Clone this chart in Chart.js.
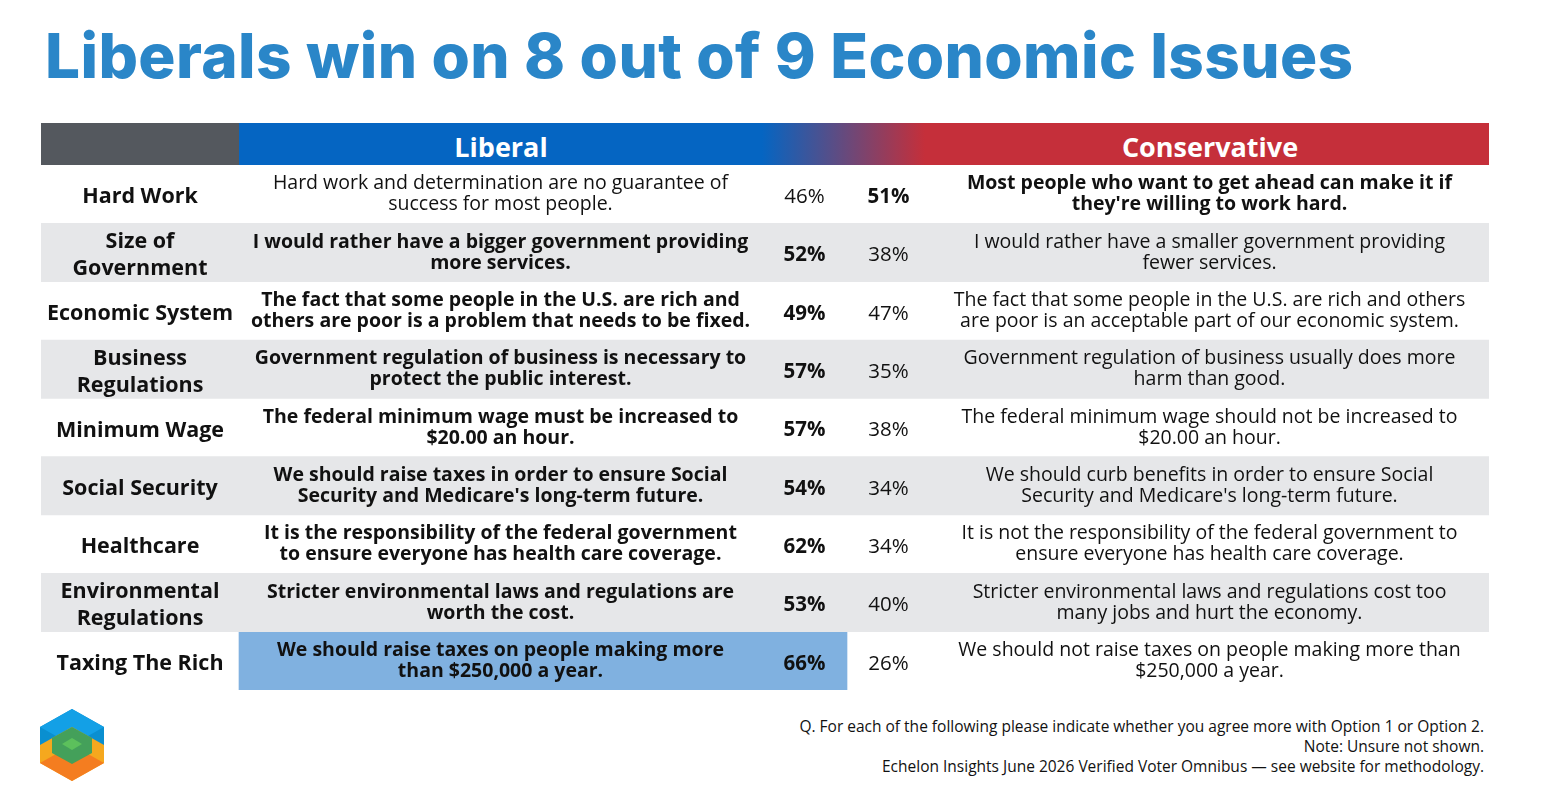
<!DOCTYPE html>
<html>
<head>
<meta charset="utf-8">
<script src="https://cdn.jsdelivr.net/npm/chart.js@4"></script>
<style>
body { margin: 0; background: #fff; font-family: "Open Sans", sans-serif; width: 1544px; height: 789px; position: relative; overflow: hidden; }
#title { position: absolute; left: 45px; top: 18px; font: 800 62px "Inter", sans-serif; color: #2a86c8; letter-spacing: 0.4px; white-space: nowrap; }
#head { position: absolute; left: 41px; top: 123px; width: 1448px; height: 42px;
  background: linear-gradient(90deg, #54585e 0, #54585e 198px, #0565c2 198px, #0565c2 721px, #c52f3a 884px, #c52f3a 100%); }
.h { position: absolute; top: 5px; color: #fff; font: 700 27px "Open Sans", sans-serif; transform: translateX(-50%); }
#wrap { position: absolute; left: 41px; top: 165px; width: 1448px; height: 525px; }
#notes { position: absolute; right: 60px; top: 716px; text-align: right; font: 15.5px "Open Sans", sans-serif; color: #111; line-height: 20px; }
#logo { position: absolute; left: 38px; top: 707px; }
</style>
</head>
<body>
<div id="title">Liberals win on 8 out of 9 Economic Issues</div>
<div id="head"><span class="h" style="left:460px">Liberal</span><span class="h" style="left:1169px">Conservative</span></div>
<div id="wrap"><canvas id="tabela" width="1448" height="525"></canvas></div>
<div id="notes">Q. For each of the following please indicate whether you agree more with Option 1 or Option 2.<br>Note: Unsure not shown.<br>Echelon Insights June 2026 Verified Voter Omnibus — see website for methodology.</div>
<svg id="logo" width="68" height="76" viewBox="0 0 68 76">
  <polygon points="34,2 66,20 66,38 34,56 2,38 2,20" fill="#0a8fd0"/>
  <polygon points="34,2 66,20 34,38 2,20" fill="#13a0e6"/>
  <polygon points="2,38 34,20 66,38 66,56 34,74 2,56" fill="#f5a81e"/>
  <polygon points="34,38 66,56 34,74 2,56" fill="#f47d20"/>
  <polygon points="34,20 54,31 54,46 34,57 14,46 14,31" fill="#44a05a"/>
  <polygon points="34,31 44,37 34,43 24,37" fill="#5cc05c"/>
</svg>
<script>
// Dados da tabela
var temas = ["Hard Work", "Size of\nGovernment", "Economic System", "Business\nRegulations", "Minimum Wage", "Social Security", "Healthcare", "Environmental\nRegulations", "Taxing The Rich"];
var textoLiberal = [
    "Hard work and determination are no guarantee of\nsuccess for most people.",
    "I would rather have a bigger government providing\nmore services.",
    "The fact that some people in the U.S. are rich and\nothers are poor is a problem that needs to be fixed.",
    "Government regulation of business is necessary to\nprotect the public interest.",
    "The federal minimum wage must be increased to\n$20.00 an hour.",
    "We should raise taxes in order to ensure Social\nSecurity and Medicare's long-term future.",
    "It is the responsibility of the federal government\nto ensure everyone has health care coverage.",
    "Stricter environmental laws and regulations are\nworth the cost.",
    "We should raise taxes on people making more\nthan $250,000 a year."
];
var textoConservador = [
    "Most people who want to get ahead can make it if\nthey're willing to work hard.",
    "I would rather have a smaller government providing\nfewer services.",
    "The fact that some people in the U.S. are rich and others\nare poor is an acceptable part of our economic system.",
    "Government regulation of business usually does more\nharm than good.",
    "The federal minimum wage should not be increased to\n$20.00 an hour.",
    "We should curb benefits in order to ensure Social\nSecurity and Medicare's long-term future.",
    "It is not the responsibility of the federal government to\nensure everyone has health care coverage.",
    "Stricter environmental laws and regulations cost too\nmany jobs and hurt the economy.",
    "We should not raise taxes on people making more than\n$250,000 a year."
];
var pctLiberal = [46, 52, 49, 57, 57, 54, 62, 53, 66];
var pctConservador = [51, 38, 47, 35, 38, 34, 34, 40, 26];
var destaque = ["Taxing The Rich"];

// Colunas da tabela (eixo x)
var col = { tema: [0, 198], lib: [198, 721], libPct: [721, 806], conPct: [806, 889], con: [889, 1448] };

var faixas = temas.map(function (t, i) { return i % 2 === 1 ? [0, 1448] : null; });
var realce = temas.map(function (t) { return destaque.indexOf(t) !== -1 ? [col.lib[0], col.libPct[1]] : null; });

var textoPlugin = {
    id: "texto",
    afterDatasetsDraw: function (chart) {
        var ctx = chart.ctx, x = chart.scales.x, y = chart.scales.y;
        function centro(c) { return (x.getPixelForValue(c[0]) + x.getPixelForValue(c[1])) / 2; }
        function escrever(txt, c, yc, bold, size, lh) {
            var linhas = txt.split("\n");
            ctx.font = (bold ? "700 " : "400 ") + size + "px 'Open Sans'";
            var y0 = yc - (linhas.length - 1) * lh / 2;
            linhas.forEach(function (l, k) { ctx.fillText(l, centro(c), y0 + k * lh); });
        }
        ctx.save();
        ctx.fillStyle = "#111";
        ctx.textAlign = "center";
        ctx.textBaseline = "middle";
        temas.forEach(function (t, i) {
            var yc = y.getPixelForValue(i);
            var libGanha = pctLiberal[i] > pctConservador[i];
            escrever(t, col.tema, yc + 3, true, 21.5, 27);
            escrever(textoLiberal[i], col.lib, yc, libGanha, 19.5, 21);
            escrever(pctLiberal[i] + "%", col.libPct, yc + 3, libGanha, 20.5, 21);
            escrever(pctConservador[i] + "%", col.conPct, yc + 3, !libGanha, 20.5, 21);
            escrever(textoConservador[i], col.con, yc, !libGanha, 19.5, 21);
        });
        ctx.restore();
    }
};

new Chart(document.getElementById("tabela"), {
    type: "bar",
    data: {
        labels: temas,
        datasets: [
            { data: faixas, backgroundColor: "#e6e7e9", grouped: false, barPercentage: 1, categoryPercentage: 1 },
            { data: realce, backgroundColor: "#80b1e0", grouped: false, barPercentage: 1, categoryPercentage: 1 }
        ]
    },
    options: {
        indexAxis: "y",
        responsive: false,
        animation: false,
        layout: { padding: 0 },
        plugins: { legend: { display: false }, tooltip: { enabled: false } },
        scales: {
            x: { type: "linear", min: 0, max: 1448, display: false },
            y: { display: false }
        }
    },
    plugins: [textoPlugin]
});
</script>
</body>
</html>
